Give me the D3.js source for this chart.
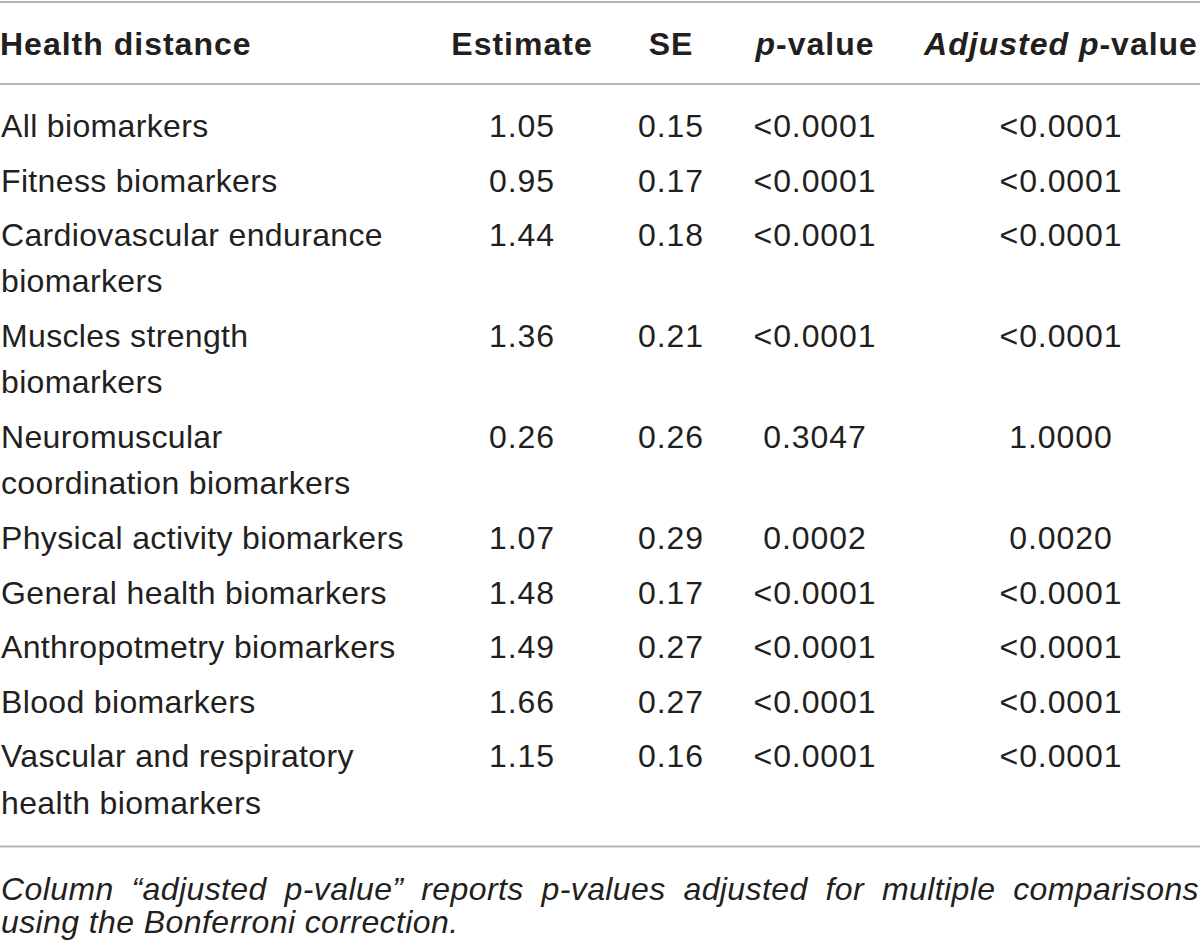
<!DOCTYPE html>
<html lang="en">
<head>
	<meta charset="UTF-8">
	<title>Health distance table</title>
	<style>
		html, body { margin: 0; padding: 0; background: #fff; }
		svg text {
			font-family: "Liberation Sans", Arial, Helvetica, sans-serif;
			fill: #231f20;
		}
		.head text { font-weight: bold; letter-spacing: 1px; }
		.label { letter-spacing: 0.35px; }
		.cell { letter-spacing: 0.9px; }
		.note text { letter-spacing: 0.4px; }
		.rule { stroke: #b3b3b3; stroke-width: 2; }
	</style>
	<script src="https://cdn.jsdelivr.net/npm/d3@7/dist/d3.min.js"></script>
</head>
<body>
<script>
	// table values
	var categories = [
		["All biomarkers"],
		["Fitness biomarkers"],
		["Cardiovascular endurance", "biomarkers"],
		["Muscles strength", "biomarkers"],
		["Neuromuscular", "coordination biomarkers"],
		["Physical activity biomarkers"],
		["General health biomarkers"],
		["Anthropotmetry biomarkers"],
		["Blood biomarkers"],
		["Vascular and respiratory", "health biomarkers"]
	];
	var estimates = ["1.05", "0.95", "1.44", "1.36", "0.26", "1.07", "1.48", "1.49", "1.66", "1.15"];
	var stdErrors = ["0.15", "0.17", "0.18", "0.21", "0.26", "0.29", "0.17", "0.27", "0.27", "0.16"];
	var pValues = ["<0.0001", "<0.0001", "<0.0001", "<0.0001", "0.3047", "0.0002", "<0.0001", "<0.0001", "<0.0001", "<0.0001"];
	var adjPValues = ["<0.0001", "<0.0001", "<0.0001", "<0.0001", "1.0000", "0.0020", "<0.0001", "<0.0001", "<0.0001", "<0.0001"];
	var columns = ["est", "se", "p", "adj"];
	var footnote = [
		"Column \u201cadjusted p-value\u201d reports p-values adjusted for multiple comparisons",
		"using the Bonferroni correction."
	];

	var width = 1200, height = 942;
	var fontSize = 32;
	var rowPitch = 54.6, linePitch = 46.3;
	var firstBaseline = 137;

	var svg = d3.select("body").append("svg")
		.attr("width", width)
		.attr("height", height);

	// column centres
	var x = d3.scaleOrdinal()
		.domain(columns)
		.range([522, 671, 815, 1061]);

	// row baselines from the number of lines in each label
	var rowY = [];
	var yy = firstBaseline;
	categories.forEach(function(c) {
		rowY.push(yy);
		yy += rowPitch + linePitch * (c.length - 1);
	});
	var lastRowBottom = yy - rowPitch + 33;

	svg.append("line").attr("class", "rule")
		.attr("x1", 0).attr("x2", width).attr("y1", 2).attr("y2", 2);
	svg.append("line").attr("class", "rule")
		.attr("x1", 0).attr("x2", width).attr("y1", 84).attr("y2", 84);
	svg.append("line").attr("class", "rule")
		.attr("x1", 0).attr("x2", width).attr("y1", lastRowBottom).attr("y2", lastRowBottom);

	// header
	var head = svg.append("g").attr("class", "head")
		.style("font-size", fontSize + "px");
	head.append("text").attr("x", 0).attr("y", 55).text("Health distance");
	head.append("text").attr("x", x("est")).attr("y", 55)
		.attr("text-anchor", "middle").text("Estimate");
	head.append("text").attr("x", x("se")).attr("y", 55)
		.attr("text-anchor", "middle").text("SE");
	var ph = head.append("text").attr("x", x("p")).attr("y", 55)
		.attr("text-anchor", "middle");
	ph.append("tspan").style("font-style", "italic").text("p");
	ph.append("tspan").text("-value");
	var ah = head.append("text").attr("x", x("adj")).attr("y", 55)
		.attr("text-anchor", "middle");
	ah.append("tspan").style("font-style", "italic").text("Adjusted p");
	ah.append("tspan").text("-value");

	// body rows
	var rows = svg.append("g").style("font-size", fontSize + "px")
		.selectAll("g.row")
		.data(categories)
		.enter().append("g")
		.attr("class", "row")
		.attr("transform", function(d, i) { return "translate(0," + rowY[i] + ")"; });

	rows.append("text")
		.attr("class", "label")
		.attr("x", 1)
		.selectAll("tspan")
		.data(function(d) { return d; })
		.enter().append("tspan")
		.attr("x", 1)
		.attr("y", function(d, j) { return j * linePitch; })
		.text(function(d) { return d; });

	var cellData = function(i) {
		return [
			{ col: "est", v: estimates[i] },
			{ col: "se", v: stdErrors[i] },
			{ col: "p", v: pValues[i] },
			{ col: "adj", v: adjPValues[i] }
		];
	};
	rows.selectAll("text.cell")
		.data(function(d, i) { return cellData(i); })
		.enter().append("text")
		.attr("class", "cell")
		.attr("x", function(d) { return x(d.col); })
		.attr("text-anchor", "middle")
		.text(function(d) { return d.v; });

	// footnote, first line justified to full width
	var note = svg.append("g")
		.attr("class", "note")
		.style("font-size", fontSize + "px")
		.style("font-style", "italic");
	var noteY = [lastRowBottom + 53, lastRowBottom + 86];

	var words = footnote[0].split(" ");
	var wordNodes = note.selectAll("text.w")
		.data(words)
		.enter().append("text")
		.attr("class", "w")
		.attr("y", noteY[0])
		.text(function(d) { return d; });
	var widths = [];
	wordNodes.each(function() { widths.push(this.getComputedTextLength()); });
	var gap = (width - 2 - d3.sum(widths)) / (words.length - 1);
	var cx = 1;
	wordNodes.attr("x", function(d, i) {
		var v = cx;
		cx += widths[i] + gap;
		return v;
	});

	note.append("text")
		.attr("x", 1)
		.attr("y", noteY[1])
		.text(footnote[1]);
</script>
</body>
</html>
